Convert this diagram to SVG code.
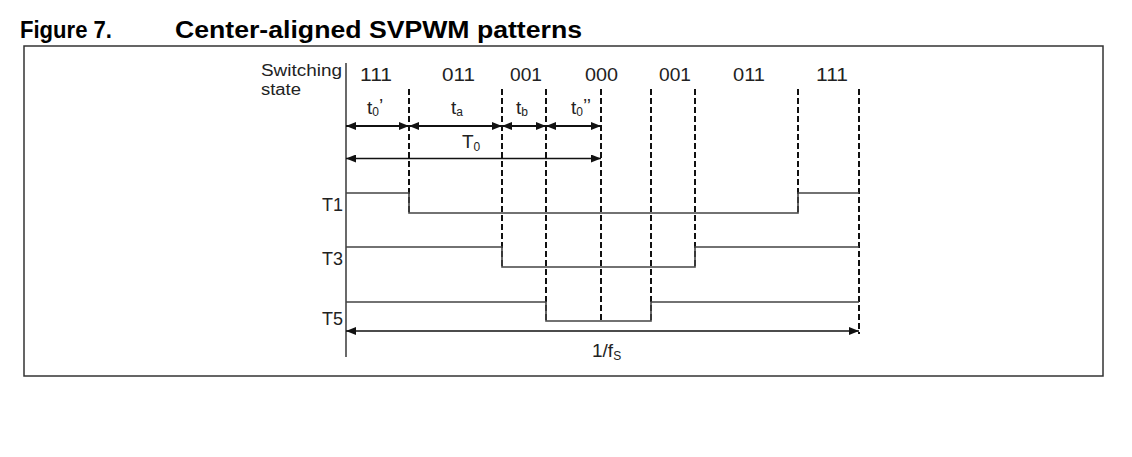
<svg xmlns="http://www.w3.org/2000/svg" width="1132" height="457" viewBox="0 0 1132 457">
  <style>
    .title { font-family: "Liberation Sans", Arial, sans-serif; font-weight: bold; font-size: 23px; fill: #000; }
    .lbl { font-family: "Liberation Sans", Arial, sans-serif; font-size: 16px; fill: #222; }
    .dig { font-family: "Liberation Sans", Arial, sans-serif; font-size: 18px; fill: #222; }
    .tl { font-family: "Liberation Sans", Arial, sans-serif; font-size: 19px; fill: #222; }
    .sub { font-size: 12px; }
    .sig { fill: none; stroke: #444; stroke-width: 1.6; }
    .dash { fill: none; stroke: #111; stroke-width: 2; stroke-dasharray: 6 3; }
    .arrT { stroke: #111; stroke-width: 2.2; marker-start: url(#ah); marker-end: url(#ah); }
    .arr { stroke: #111; stroke-width: 1.4; marker-start: url(#ah); marker-end: url(#ah); }
  </style>
  <defs>
    <marker id="ah" viewBox="0 0 10 8" refX="10" refY="4" markerWidth="10" markerHeight="8" markerUnits="userSpaceOnUse" orient="auto-start-reverse">
      <path d="M0,0 L10,4 L0,8 z" fill="#111"/>
    </marker>
  </defs>
  <rect width="1132" height="457" fill="#fff"/>

  <g id="title">
    <text class="title" x="20" y="38" textLength="92" lengthAdjust="spacingAndGlyphs">Figure 7.</text>
    <text class="title" x="175" y="38" textLength="407" lengthAdjust="spacingAndGlyphs">Center-aligned SVPWM patterns</text>
  </g>

  <g id="frame">
    <rect x="24" y="46" width="1079" height="330" fill="none" stroke="#333" stroke-width="1.5"/>
  </g>

  <g id="axis">
    <line x1="346" y1="63" x2="346" y2="357" stroke="#444" stroke-width="1.6"/>
  </g>

  <g id="state-labels">
    <text class="lbl" x="261" y="76" textLength="81" lengthAdjust="spacingAndGlyphs">Switching</text>
    <text class="lbl" x="261" y="95" textLength="40" lengthAdjust="spacingAndGlyphs">state</text>
    <text class="dig" x="360" y="81" textLength="32" lengthAdjust="spacingAndGlyphs">111</text>
    <text class="dig" x="442" y="81" textLength="33" lengthAdjust="spacingAndGlyphs">011</text>
    <text class="dig" x="510" y="81" textLength="32" lengthAdjust="spacingAndGlyphs">001</text>
    <text class="dig" x="585" y="81" textLength="33" lengthAdjust="spacingAndGlyphs">000</text>
    <text class="dig" x="659" y="81" textLength="32" lengthAdjust="spacingAndGlyphs">001</text>
    <text class="dig" x="733" y="81" textLength="32" lengthAdjust="spacingAndGlyphs">011</text>
    <text class="dig" x="816" y="81" textLength="32" lengthAdjust="spacingAndGlyphs">111</text>
  </g>

  <g id="dashed-lines">
    <line class="dash" x1="409" y1="89" x2="409" y2="213"/>
    <line class="dash" x1="502" y1="89" x2="502" y2="267"/>
    <line class="dash" x1="546" y1="89" x2="546" y2="321"/>
    <line class="dash" x1="601" y1="89" x2="601" y2="321"/>
    <line class="dash" x1="651" y1="89" x2="651" y2="321"/>
    <line class="dash" x1="695" y1="89" x2="695" y2="267"/>
    <line class="dash" x1="798" y1="89" x2="798" y2="213" stroke-width="1.5"/>
    <line class="dash" x1="859" y1="89" x2="859" y2="334"/>
  </g>

  <g id="signals">
    <g id="T1">
      <path class="sig" d="M346,193 H409 V213 H798 V193 H859"/>
      <text class="tl" x="343" y="211" text-anchor="end" textLength="21" lengthAdjust="spacingAndGlyphs">T1</text>
    </g>
    <g id="T3">
      <path class="sig" d="M346,247 H502 V267 H695 V247 H859"/>
      <text class="tl" x="343" y="265" text-anchor="end" textLength="21" lengthAdjust="spacingAndGlyphs">T3</text>
    </g>
    <g id="T5">
      <path class="sig" d="M346,302 H546 V321 H651 V302 H859"/>
      <text class="tl" x="343" y="325" text-anchor="end" textLength="21" lengthAdjust="spacingAndGlyphs">T5</text>
    </g>
  </g>

  <g id="connectors">
    <line class="arrT" x1="346" y1="126" x2="409" y2="126"/>
    <line class="arrT" x1="409" y1="126" x2="502" y2="126"/>
    <line class="arrT" x1="502" y1="126" x2="546" y2="126"/>
    <line class="arrT" x1="546" y1="126" x2="601" y2="126"/>
    <line class="arr" x1="346" y1="158.5" x2="601" y2="158.5"/>
    <line class="arr" x1="346" y1="331" x2="859" y2="331"/>
  </g>

  <g id="interval-labels">
    <text class="tl" x="367" y="114">t<tspan class="sub" dy="2">0</tspan><tspan dy="-4">’</tspan></text>
    <text class="tl" x="451" y="114">t<tspan class="sub" dy="2">a</tspan></text>
    <text class="tl" x="516" y="114">t<tspan class="sub" dy="2">b</tspan></text>
    <text class="tl" x="571" y="114">t<tspan class="sub" dy="2">0</tspan><tspan dy="-4">’’</tspan></text>
    <text class="tl" x="462" y="148">T<tspan class="sub" dy="3">0</tspan></text>
    <text class="tl" x="592" y="357">1/f<tspan class="sub" dy="3">S</tspan></text>
  </g>
</svg>
